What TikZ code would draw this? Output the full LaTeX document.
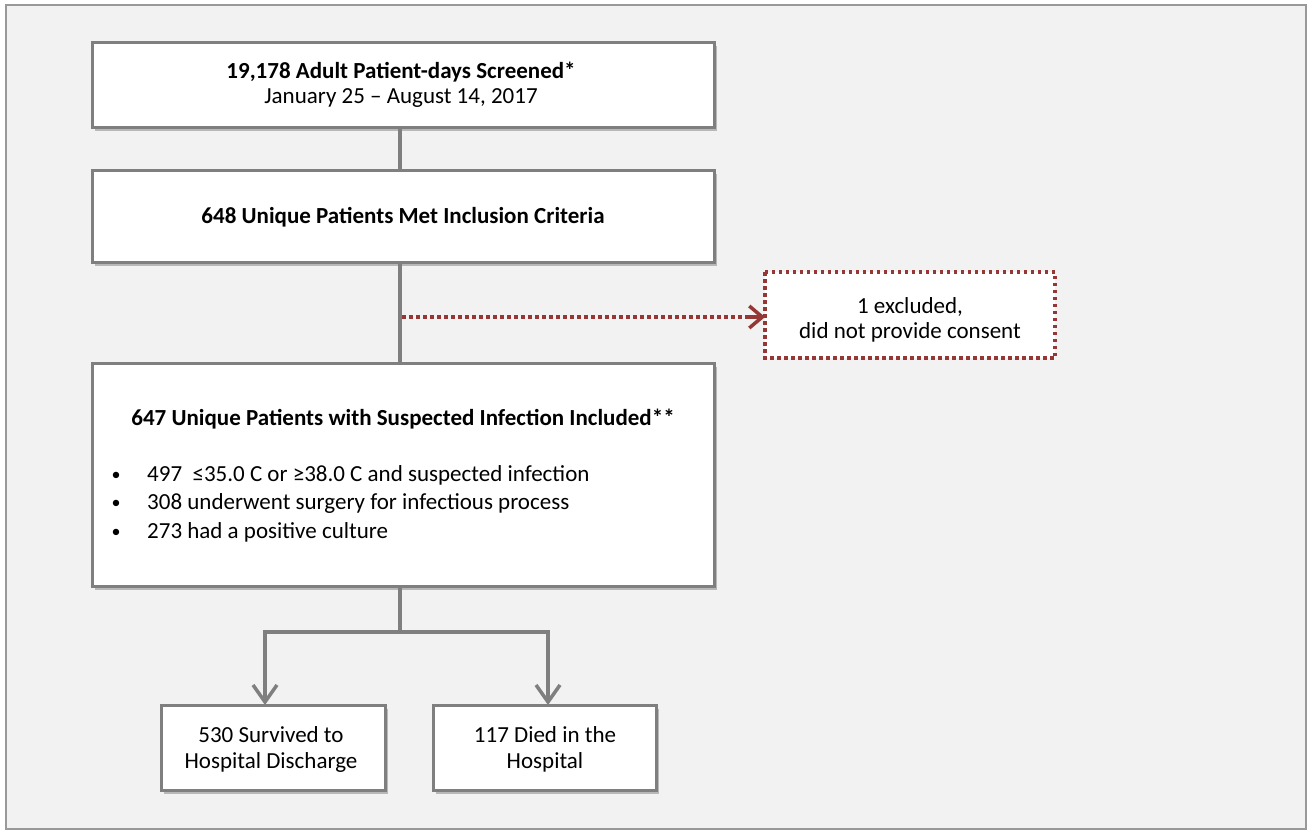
\documentclass[tikz,border=0pt]{standalone}
\usepackage{fontspec}
\setmainfont{Carlito}
\usetikzlibrary{arrows.meta,shadows}
\definecolor{bgc}{HTML}{F2F2F2}
\definecolor{lnc}{HTML}{7F7F7F}
\definecolor{redc}{HTML}{953735}
\tikzset{
  box/.style={draw=lnc, line width=3pt, fill=white, drop shadow={shadow xshift=3pt, shadow yshift=-3.5pt, opacity=0.45, fill=black!55}},
  conn/.style={draw=lnc, line width=3.5pt},
  arr/.style={conn, -{Straight Barb[length=17pt,width=24pt,line width=3.5pt]}},
  txt/.style={font=\fontsize{23}{26}\selectfont, inner sep=0pt, anchor=base},
  bul/.style={font=\fontsize{18}{20}\selectfont, inner sep=0pt, anchor=base},
  redline/.style={draw=redc, line width=3.5pt, dash pattern=on 3.5pt off 3.5pt},
}
\begin{document}
\begin{tikzpicture}[x=1pt,y=-1pt]
\useasboundingbox (0,0) rectangle (1311,835);
\draw[draw=lnc!80, line width=1.5pt, fill=bgc] (6,5) rectangle (1306,829);
% boxes
\path[box] (92,42) rectangle (714,127);
\coordinate (b1b) at (400,127);
\node[txt] (t1a) at (401,78) {\textbf{19,178 Adult Patient-days Screened*}};
\node[txt] (t1b) at (401,103) {January 25 – August 14, 2017};
\path[box] (92,170) rectangle (714,262);
\coordinate (b2t) at (400,170); \coordinate (b2b) at (400,262);
\node[txt] (t2) at (403,223) {\textbf{648 Unique Patients Met Inclusion Criteria}};
\path[box] (92,363) rectangle (714,586);
\coordinate (b3t) at (400,363); \coordinate (b3b) at (400,586);
\node[txt] (t3) at (403,425) {\textbf{647 Unique Patients with Suspected Infection Included**}};
\node[bul] (bl1) at (116,480) {•};
\node[txt, anchor=base west] (bt1) at (147,481) {497\ \ ≤35.0 C or ≥38.0 C and suspected infection};
\node[bul] (bl2) at (116,508) {•};
\node[txt, anchor=base west] (bt2) at (147,509) {308 underwent surgery for infectious process};
\node[bul] (bl3) at (116,537) {•};
\node[txt, anchor=base west] (bt3) at (147,538) {273 had a positive culture};
% excluded
\path[redline, fill=white] (765,272) rectangle (1055,358);
\coordinate (ex) at (765,317);
\node[txt] (t4a) at (910,313) {1 excluded,};
\node[txt] (t4b) at (910,338) {did not provide consent};
% outcomes
\path[box] (161,705) rectangle (385,790);
\coordinate (b4t) at (265,705);
\node[txt] (t5a) at (271,742) {530 Survived to};
\node[txt] (t5b) at (271,768) {Hospital Discharge};
\path[box] (433,705) rectangle (656,790);
\coordinate (b5t) at (548,705);
\node[txt] (t6a) at (545,742) {117 Died in the};
\node[txt] (t6b) at (545,768) {Hospital};
% connectors
\draw[conn] (b1b) -- (b2t);
\draw[conn] (b2b) -- (b3t);
\draw[redline] (402,317) -- (752,317);
\draw[draw=redc, line width=3.5pt, -{Straight Barb[length=13pt,width=22pt,line width=3.5pt]}] (748,317) -- (ex);
\coordinate (j) at (400,632);
\coordinate (jl) at (265,632);
\coordinate (jr) at (548,632);
\draw[conn] (b3b) -- (j);
\draw[arr] (j) -- (jl) -- (b4t);
\draw[arr] (j) -- (jr) -- (b5t);
\end{tikzpicture}
\end{document}
